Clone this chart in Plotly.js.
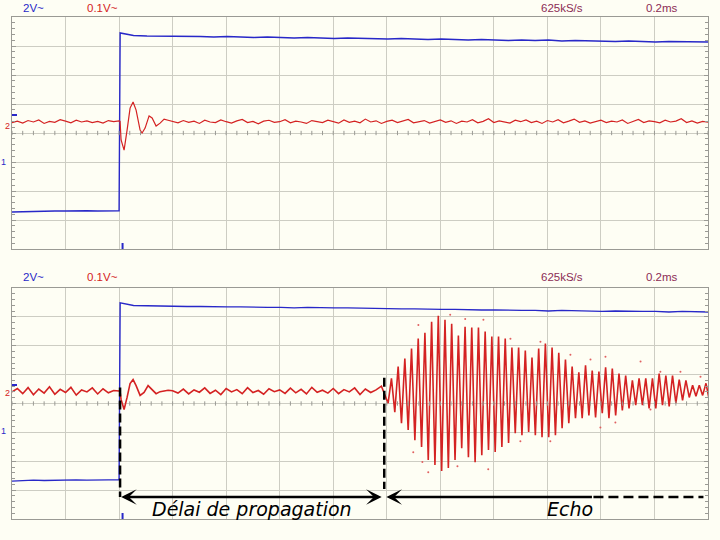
<!DOCTYPE html>
<html><head><meta charset="utf-8">
<script src="https://cdn.plot.ly/plotly-3.0.1.min.js"></script>
<style>html,body{margin:0;padding:0;background:#fefef4;}</style>
</head><body><div id="chart" style="width:720px;height:540px;"></div>
<script>
// ---------------- DATA (time in ms, blue in V at 2 V/div, red in V at 0.1 V/div) ----------------
const NOISE_DT = 0.02;   // sampling step of the noisy stretches (ms)
const ECHO_DT = 0.0125;  // half-period step of the 40 kHz echo (ms)

// Top panel - blue (channel 1, step)
const blueTopLow  = [-5.45,-5.42,-5.42,-5.40,-5.38,-5.38,-5.36,-5.36,-5.38,-5.36,-5.36]; // t = 0 .. 0.40 step 0.04
const blueTopHigh = [6.90,6.72,6.69,6.69,6.66,6.69,6.66,6.62,6.66,6.62,6.59,6.62,6.59,6.55,6.59,6.55,6.52,6.55,6.52,6.48,
                     6.48,6.52,6.48,6.45,6.48,6.45,6.41,6.45,6.41,6.38,6.41,6.38,6.41,6.34,6.38,6.34,6.34,6.31,6.34,6.31,
                     6.28,6.31,6.31,6.28,6.28]; // t = 0.404 .. step 0.05

// Top panel - red (channel 2, direct pick-up)
const redTopPre = [0.036,0.041,0.034,0.043,0.038,0.045,0.033,0.040,0.037,0.046,0.041,0.035,0.044,0.038,0.042,0.036,0.040,0.034,0.043,0.039,0.042];
const redTopRingT = [0.4037,0.4075,0.4187,0.4299,0.4411,0.4523,0.4636,0.4785,0.4860,0.4972,0.5121,0.5234,0.5383,0.5533,0.5682,0.5832];
const redTopRingV = [0.040,-0.024,-0.059,0.010,0.086,0.107,0.079,0.010,0.000,0.017,0.059,0.052,0.024,0.034,0.048,0.044];
const redTopPost = [0.040,0.035,0.043,0.037,0.041,0.033,0.044,0.038,0.036,0.045,0.039,0.034,0.042,0.047,0.036,0.040,0.032,0.041,0.044,0.037,
                    0.039,0.046,0.035,0.041,0.038,0.033,0.043,0.040,0.036,0.044,0.039,0.034,0.045,0.037,0.041,0.035,0.048,0.038,0.042,0.033,
                    0.040,0.044,0.036,0.041,0.047,0.035,0.039,0.043,0.034,0.040,0.045,0.037,0.042,0.033,0.041,0.038,0.046,0.035,0.040,0.049,
                    0.036,0.042,0.038,0.034,0.044,0.039,0.045,0.036,0.041,0.033,0.043,0.038,0.046,0.035,0.041,0.048,0.037,0.042,0.034,0.040,
                    0.044,0.036,0.041,0.038,0.045,0.033,0.040,0.047,0.036,0.042,0.039,0.035,0.044,0.038,0.041,0.049,0.036,0.042,0.034,0.040,0.037]; // t = 0.60 .. 2.60

// Bottom panel - blue
const blueBotLow  = [-5.38,-5.33,-5.31,-5.33,-5.31,-5.31,-5.29,-5.31,-5.28,-5.29,-5.28];
const blueBotHigh = [6.97,6.79,6.76,6.76,6.72,6.72,6.72,6.69,6.69,6.69,6.66,6.66,6.66,6.62,6.66,6.62,6.62,6.62,6.59,6.59,
                     6.55,6.55,6.55,6.52,6.52,6.52,6.48,6.48,6.48,6.45,6.45,6.45,6.41,6.45,6.41,6.41,6.38,6.41,6.38,6.38,
                     6.38,6.34,6.38,6.34,6.34];

// Bottom panel - red (receiver)
const redBotPre = [0.040,0.052,0.034,0.055,0.030,0.050,0.036,0.058,0.032,0.049,0.038,0.056,0.029,0.047,0.040,0.054,0.033,0.051,0.037,0.045,0.043];
const redBotRingT = [0.4037,0.4075,0.4187,0.4299,0.4411,0.4523,0.4636,0.4785,0.4934,0.5084,0.5234,0.5383,0.5533,0.5832];
const redBotRingV = [0.042,0.014,-0.021,0.021,0.069,0.083,0.062,0.028,0.038,0.062,0.048,0.034,0.041,0.046];
const redBotPost = [0.044,0.036,0.050,0.033,0.047,0.039,0.054,0.035,0.046,0.031,0.052,0.040,0.048,0.034,0.055,0.038,0.045,0.032,0.051,0.041,
                    0.047,0.035,0.053,0.037,0.049,0.033,0.056,0.039,0.046,0.036,0.052,0.034,0.048,0.040,0.054,0.031,0.050,0.038,0.047,0.060]; // t = 0.60 .. 1.38
const echoStart = 1.405;
const echoTroughs = [0.001,-0.030,-0.068,-0.092,-0.127,-0.151,-0.196,-0.213,-0.234,-0.223,-0.196,-0.155,-0.186,-0.203,-0.179,-0.161,
                     -0.168,-0.151,-0.137,-0.103,-0.110,-0.099,-0.110,-0.117,-0.117,-0.110,-0.086,-0.068,-0.051,-0.051,-0.041,-0.048,
                     -0.034,-0.051,-0.041,-0.024,-0.017,-0.006,-0.006,-0.017,-0.017,-0.006,-0.010,0.001,0.011,0.021,0.025,0.028,0.011];
const echoPeaks = [0.087,0.128,0.156,0.190,0.225,0.245,0.283,0.304,0.290,0.276,0.235,0.266,0.263,0.263,0.249,0.232,
                   0.232,0.225,0.194,0.194,0.183,0.159,0.190,0.208,0.194,0.176,0.152,0.128,0.108,0.132,0.114,0.111,
                   0.125,0.121,0.104,0.097,0.080,0.087,0.087,0.087,0.104,0.097,0.097,0.083,0.080,0.063,0.063,0.070];
const strayT = [1.518,1.499,1.533,1.555,1.637,1.664,1.693,1.761,1.779,1.862,1.899,1.974,2.011,2.086,2.161,2.198,2.217,2.254,2.348,2.385,2.422,2.497,2.572];
const strayV = [0.272,-0.169,-0.203,-0.238,0.307,-0.217,0.293,0.290,-0.228,0.224,-0.131,0.214,-0.131,0.169,0.152,-0.083,0.162,-0.066,0.145,-0.021,0.110,0.110,0.093];

// Text
const headerLabels = ['2V~','0.1V~','625kS/s','0.2ms'];
const delayLabel = 'Délai de propagation';
const echoLabel = 'Echo';
const triggerT = 0.4037, echoOnsetT = 1.3906;

// ---------------- BUILD ----------------
function seq(t0, step, n){ const a=[]; for(let i=0;i<n;i++) a.push(+(t0+i*step).toFixed(5)); return a; }

const BLUE='#2828c8', RED='#d42222', GRID='#cdcdc3', FRAME='#9a9a94', BG='#fefef4';

const topBlueX=[...seq(0,0.04,blueTopLow.length), ...seq(0.404,0.05,blueTopHigh.length)];
const topBlueY=[...blueTopLow, ...blueTopHigh];
const topRedX=[...seq(0,NOISE_DT,redTopPre.length), ...redTopRingT, ...seq(0.60,NOISE_DT,redTopPost.length)];
const topRedY=[...redTopPre, ...redTopRingV, ...redTopPost];

const botBlueX=[...seq(0,0.04,blueBotLow.length), ...seq(0.404,0.05,blueBotHigh.length)];
const botBlueY=[...blueBotLow, ...blueBotHigh];
const echoV=[]; for(let i=0;i<echoTroughs.length;i++){ echoV.push(echoTroughs[i]); if(i<echoPeaks.length) echoV.push(echoPeaks[i]); }
const botRedX=[...seq(0,NOISE_DT,redBotPre.length), ...redBotRingT, ...seq(0.60,NOISE_DT,redBotPost.length), ...seq(echoStart,ECHO_DT,echoV.length)];
const botRedY=[...redBotPre, ...redBotRingV, ...redBotPost, ...echoV];

const traces=[
 {x:topBlueX,y:topBlueY,xaxis:'x',yaxis:'y',mode:'lines',line:{color:BLUE,width:1.4},hoverinfo:'skip'},
 {x:topRedX,y:topRedY,xaxis:'x',yaxis:'y2',mode:'lines',line:{color:RED,width:1.2},hoverinfo:'skip'},
 {x:botBlueX,y:botBlueY,xaxis:'x2',yaxis:'y3',mode:'lines',line:{color:BLUE,width:1.4},hoverinfo:'skip'},
 {x:botRedX,y:botRedY,xaxis:'x2',yaxis:'y4',mode:'lines',line:{color:RED,width:1.6},hoverinfo:'skip'},
 {x:strayT,y:strayV,xaxis:'x2',yaxis:'y4',mode:'markers',marker:{color:'#e06060',size:2},hoverinfo:'skip'}
];

function xax(anchor){ return {domain:[0,1],anchor:anchor,range:[0,2.6],tick0:0,dtick:0.2,showgrid:true,gridcolor:GRID,gridwidth:1,
  zeroline:false,showticklabels:false,ticks:'',showline:true,linecolor:FRAME,linewidth:1,mirror:true,fixedrange:true}; }
function yBlue(dom){ return {domain:dom,anchor:dom[0]===0?'x2':'x',range:[-8,8],tick0:0,dtick:2,showgrid:true,gridcolor:GRID,gridwidth:1,zeroline:false,
  showticklabels:false,ticks:'inside',ticklen:4,tickcolor:FRAME,minor:{dtick:0.4,ticks:'inside',ticklen:3,tickcolor:FRAME,showgrid:false},
  showline:true,linecolor:FRAME,linewidth:1,mirror:true,fixedrange:true}; }
function yRed(over,anchor){ return {overlaying:over,anchor:anchor,side:'right',range:[-0.4,0.4],tick0:0,dtick:0.1,showgrid:false,zeroline:false,
  showticklabels:false,ticks:'inside',ticklen:4,tickcolor:FRAME,minor:{dtick:0.02,ticks:'inside',ticklen:3,tickcolor:FRAME,showgrid:false},fixedrange:true}; }

const H=502, W=696;
const px=(p)=>(p-12)/W, py=(p)=>(519-p)/H;

// centre-line minor ticks
function centreTicks(xr,yr){ let d=''; for(let i=0;i<=65;i++){ const t=(i*0.04).toFixed(3); d+=`M${t},-0.15L${t},0.15`; }
  return {type:'path',xref:xr,yref:yr,path:d,line:{color:FRAME,width:1},layer:'above'}; }

const shapes=[
 centreTicks('x','y'), centreTicks('x2','y3'),
 {type:'line',xref:'paper',yref:'paper',x0:0,x1:px(17),y0:py(115),y1:py(115),line:{color:BLUE,width:2}},
 {type:'line',xref:'paper',yref:'paper',x0:0,x1:px(17),y0:py(385),y1:py(385),line:{color:BLUE,width:2}},
 {type:'line',xref:'x',yref:'paper',x0:0.413,x1:0.413,y0:py(249),y1:py(243),line:{color:BLUE,width:2}},
 {type:'line',xref:'x2',yref:'paper',x0:0.413,x1:0.413,y0:py(519),y1:py(513),line:{color:BLUE,width:2}},
 {type:'line',xref:'x2',yref:'y3',x0:triggerT,x1:triggerT,y0:1.1,y1:-6.48,line:{color:'#000',width:2.5,dash:'9px,4px'}},
 {type:'line',xref:'x2',yref:'y3',x0:echoOnsetT,x1:echoOnsetT,y0:1.79,y1:-5.93,line:{color:'#000',width:2.5,dash:'9px,4px'}},
 {type:'line',xref:'x2',yref:'y3',x0:2.172,x1:2.583,y0:-6.48,y1:-6.48,line:{color:'#000',width:2.5,dash:'10px,5px'}}
];

const hdrFont=(c)=>({family:'Liberation Sans, Arial, sans-serif',size:11.5,color:c});
const annotations=[];
const txt=(x,y,text,font)=>({xref:'paper',yref:'paper',x:x,y:y,xanchor:'center',yanchor:'middle',text:text,showarrow:false,font:font});
[8,277].forEach((row)=>{
  annotations.push(txt(px(33),py(row),headerLabels[0],hdrFont(BLUE)));
  annotations.push(txt(px(102.5),py(row),headerLabels[1],hdrFont(RED)));
  annotations.push(txt(px(561.5),py(row),headerLabels[2],hdrFont('#8c2c55')));
  annotations.push(txt(px(661.5),py(row),headerLabels[3],hdrFont('#8c2c55')));
});
[[126,162],[393,431]].forEach(([r,b])=>{
  annotations.push(txt(px(7),py(r),'2',{family:'Liberation Sans',size:9,color:RED}));
  annotations.push(txt(px(3.5),py(b),'1',{family:'Liberation Sans',size:9,color:BLUE}));
});
annotations.push({xref:'x2',yref:'y3',axref:'x2',ayref:'y3',x:triggerT+0.004,y:-6.48,ax:echoOnsetT-0.004,ay:-6.48,text:'',
  showarrow:true,arrowhead:3,startarrowhead:3,arrowside:'end+start',arrowsize:1,startarrowsize:1,arrowwidth:2.6,arrowcolor:'#000',standoff:0,startstandoff:0});
annotations.push({xref:'x2',yref:'y3',axref:'x2',ayref:'y3',x:echoOnsetT+0.008,y:-6.48,ax:2.172,ay:-6.48,text:'',
  showarrow:true,arrowhead:3,arrowsize:1,arrowwidth:2.6,arrowcolor:'#000',standoff:0});
annotations.push({xref:'x2',yref:'y3',x:0.897,y:-7.31,text:'<i>'+delayLabel+'</i>',showarrow:false,font:{family:'DejaVu Sans',size:19,color:'#000'}});
annotations.push({xref:'x2',yref:'y3',x:2.086,y:-7.31,text:'<i>'+echoLabel+'</i>',showarrow:false,font:{family:'DejaVu Sans',size:19,color:'#000'}});

const layout={width:720,height:540,margin:{l:12,r:12,t:17,b:21,pad:0},paper_bgcolor:BG,plot_bgcolor:BG,showlegend:false,
 xaxis:xax('y'), xaxis2:xax('y3'),
 yaxis:yBlue([0.5378,1]), yaxis2:yRed('y','x'),
 yaxis3:yBlue([0,0.4602]), yaxis4:yRed('y3','x2'),
 shapes:shapes, annotations:annotations};
Plotly.newPlot('chart',traces,layout,{staticPlot:true,displayModeBar:false});
</script></body></html>
